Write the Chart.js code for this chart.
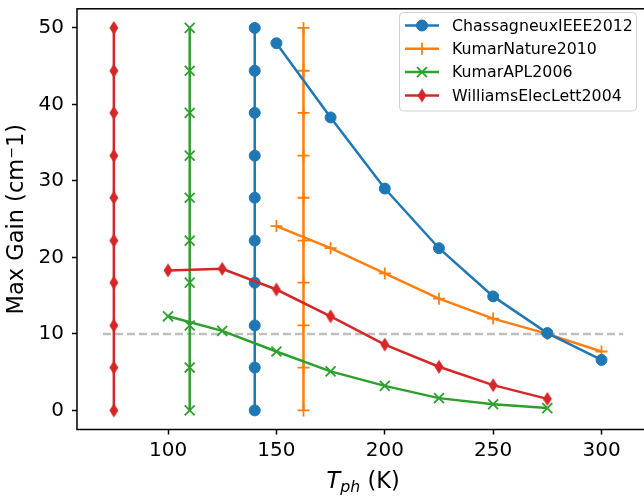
<!DOCTYPE html>
<html>
<head>
<meta charset="utf-8">
<script src="https://cdn.jsdelivr.net/npm/chart.js@4.4.0/dist/chart.umd.min.js"></script>
<style>
  html, body { margin: 0; padding: 0; overflow: hidden; background: #fff; }
  canvas { display: block; }
</style>
</head>
<body>
<canvas id="chartCanvas" width="658" height="496"></canvas>
<script>
// Max gain vs phonon temperature for four THz QCL papers
const seriesLabels = ['ChassagneuxIEEE2012', 'KumarNature2010', 'KumarAPL2006', 'WilliamsElecLett2004'];
const seriesColors = ['#1f77b4', '#ff7f0e', '#2ca02c', '#d62728'];

const chassagneuxT = [150, 175, 200, 225, 250, 275, 300];
const chassagneuxGain = [48.0, 38.3, 29.0, 21.2, 14.9, 10.1, 6.6];
const kumarNatureT = [150, 175, 200, 225, 250, 275, 300];
const kumarNatureGain = [24.1, 21.2, 17.9, 14.6, 12.0, 10.0, 7.7];
const kumarAplT = [100, 125, 150, 175, 200, 225, 250, 275];
const kumarAplGain = [12.3, 10.4, 7.7, 5.1, 3.2, 1.6, 0.8, 0.3];
const williamsT = [100, 125, 150, 175, 200, 225, 250, 275];
const williamsGain = [18.3, 18.5, 15.8, 12.3, 8.6, 5.7, 3.3, 1.5];

// vertical marker lines (max operating temperature of each paper)
const maxTemps = [140, 162.5, 110, 75];
const verticalGain = [0, 5.6, 11.1, 16.7, 22.2, 27.8, 33.3, 38.9, 44.4, 50];

// gain threshold line
const thresholdT = [70, 310];
const thresholdGain = [10, 10];

const xTicks = [100, 150, 200, 250, 300];
const yTicks = [0, 10, 20, 30, 40, 50];

Chart.defaults.font.family = '"DejaVu Sans", sans-serif';
Chart.defaults.color = '#000';

// thin diamond like matplotlib 'd'
function makeDiamond(color) {
    const c = document.createElement('canvas');
    c.width = 12;
    c.height = 16;
    const g = c.getContext('2d');
    g.fillStyle = color;
    g.beginPath();
    g.moveTo(6, 1);
    g.lineTo(10.5, 8);
    g.lineTo(6, 15);
    g.lineTo(1.5, 8);
    g.closePath();
    g.fill();
    return c;
}

const markers = [
    { style: 'circle', radius: 5.5, width: 1 },
    { style: 'cross', radius: 6, width: 1.8 },
    { style: 'crossRot', radius: 7, width: 1.8 },
    { style: makeDiamond(seriesColors[3]), radius: 7, width: 1 }
];

const toPoints = (xs, ys) => xs.map((x, i) => ({ x: x, y: ys[i] }));
const curves = [
    toPoints(chassagneuxT, chassagneuxGain),
    toPoints(kumarNatureT, kumarNatureGain),
    toPoints(kumarAplT, kumarAplGain),
    toPoints(williamsT, williamsGain)
];

function seriesDataset(i, data, isVertical) {
    const m = markers[i];
    return {
        label: isVertical ? '' : seriesLabels[i],
        data: data,
        borderColor: seriesColors[i],
        backgroundColor: seriesColors[i],
        borderWidth: 2.5,
        pointStyle: m.style,
        pointRadius: m.radius,
        pointBorderWidth: m.width,
        pointBorderColor: seriesColors[i],
        pointBackgroundColor: seriesColors[i],
        tension: 0,
        fill: false,
        isVertical: isVertical
    };
}

const datasets = [];
curves.forEach((d, i) => datasets.push(seriesDataset(i, d, false)));
maxTemps.forEach((t, i) => datasets.push(seriesDataset(i, verticalGain.map(g => ({ x: t, y: g })), true)));
datasets.push({
    label: '',
    data: toPoints(thresholdT, thresholdGain),
    borderColor: '#bfbfbf',
    borderWidth: 2.5,
    borderDash: [8, 4],
    pointRadius: 0,
    fill: false,
    isVertical: true
});

// frame, legend box and the x title with subscript
const decorations = {
    id: 'decorations',
    afterDraw(chart) {
        const ctx = chart.ctx;
        const area = chart.chartArea;
        ctx.save();

        ctx.strokeStyle = '#000';
        ctx.lineWidth = 1.5;
        ctx.strokeRect(area.left, area.top, area.right - area.left, area.bottom - area.top);

        // legend
        const box = { x: 399.5, y: 12.5, w: 237, h: 98.5, r: 4 };
        ctx.beginPath();
        ctx.roundRect(box.x, box.y, box.w, box.h, box.r);
        ctx.fillStyle = 'rgba(255,255,255,0.8)';
        ctx.fill();
        ctx.strokeStyle = '#d0d0d0';
        ctx.lineWidth = 1;
        ctx.stroke();

        ctx.font = '15.8px "DejaVu Sans"';
        ctx.textBaseline = 'middle';
        ctx.textAlign = 'left';
        seriesLabels.forEach((label, i) => {
            const y = 25.5 + i * 23.3;
            ctx.strokeStyle = seriesColors[i];
            ctx.fillStyle = seriesColors[i];
            ctx.lineWidth = 2.5;
            ctx.beginPath();
            ctx.moveTo(405, y);
            ctx.lineTo(439, y);
            ctx.stroke();
            ctx.lineWidth = markers[i].width;
            Chart.helpers.drawPoint(ctx, {
                pointStyle: markers[i].style,
                radius: markers[i].radius,
                rotation: 0,
                borderWidth: markers[i].width
            }, 422, y);
            ctx.fillStyle = '#000';
            ctx.fillText(label, 452, y + 1);
        });

        // x axis title: T_ph (K)
        const base = 488;
        const cx = (area.left + area.right) / 2;
        ctx.fillStyle = '#000';
        ctx.textBaseline = 'alphabetic';
        ctx.font = 'italic 22.5px "DejaVu Sans"';
        const wT = ctx.measureText('T').width;
        ctx.font = 'italic 15.8px "DejaVu Sans"';
        const wSub = ctx.measureText('ph').width;
        ctx.font = '22.5px "DejaVu Sans"';
        const wRest = ctx.measureText(' (K)').width;
        let x = cx - (wT + wSub + wRest) / 2;
        ctx.font = 'italic 22.5px "DejaVu Sans"';
        ctx.fillText('T', x, base);
        x += wT;
        ctx.font = 'italic 15.8px "DejaVu Sans"';
        ctx.fillText('ph', x, base + 4);
        x += wSub;
        ctx.font = '22.5px "DejaVu Sans"';
        ctx.fillText(' (K)', x, base);

        ctx.restore();
    }
};

const chart = new Chart(document.getElementById('chartCanvas').getContext('2d'), {
    type: 'line',
    data: { datasets: datasets },
    options: {
        responsive: false,
        animation: false,
        layout: { padding: { left: 0, top: 4.5, right: 1, bottom: 0 } },
        plugins: {
            legend: { display: false },
            tooltip: { enabled: false }
        },
        scales: {
            x: {
                type: 'linear',
                min: 58,
                max: 322,
                afterBuildTicks: axis => { axis.ticks = xTicks.map(v => ({ value: v })); },
                afterFit: axis => {
                    axis.height = 66.5;
                    axis.paddingLeft = 0;
                    axis.paddingRight = 0;
                },
                grid: { drawOnChartArea: false, tickLength: 5, tickWidth: 1.5, tickColor: '#000' },
                border: { display: false },
                ticks: { font: { size: 20 }, padding: 4, maxRotation: 0 },
                title: { display: false }
            },
            y: {
                type: 'linear',
                min: -2.5,
                max: 52.5,
                afterBuildTicks: axis => { axis.ticks = yTicks.map(v => ({ value: v })); },
                afterFit: axis => {
                    axis.width = 77;
                    axis.paddingTop = 0;
                    axis.paddingBottom = 0;
                },
                grid: { drawOnChartArea: false, tickLength: 5, tickWidth: 1.5, tickColor: '#000' },
                border: { display: false },
                ticks: { font: { size: 20 }, padding: 8 },
                title: {
                    display: true,
                    text: 'Max Gain (cm\u207B1)',
                    font: { size: 22.5 },
                    padding: { top: 4, bottom: 0 }
                }
            }
        }
    },
    plugins: [decorations]
});
</script>
</body>
</html>
